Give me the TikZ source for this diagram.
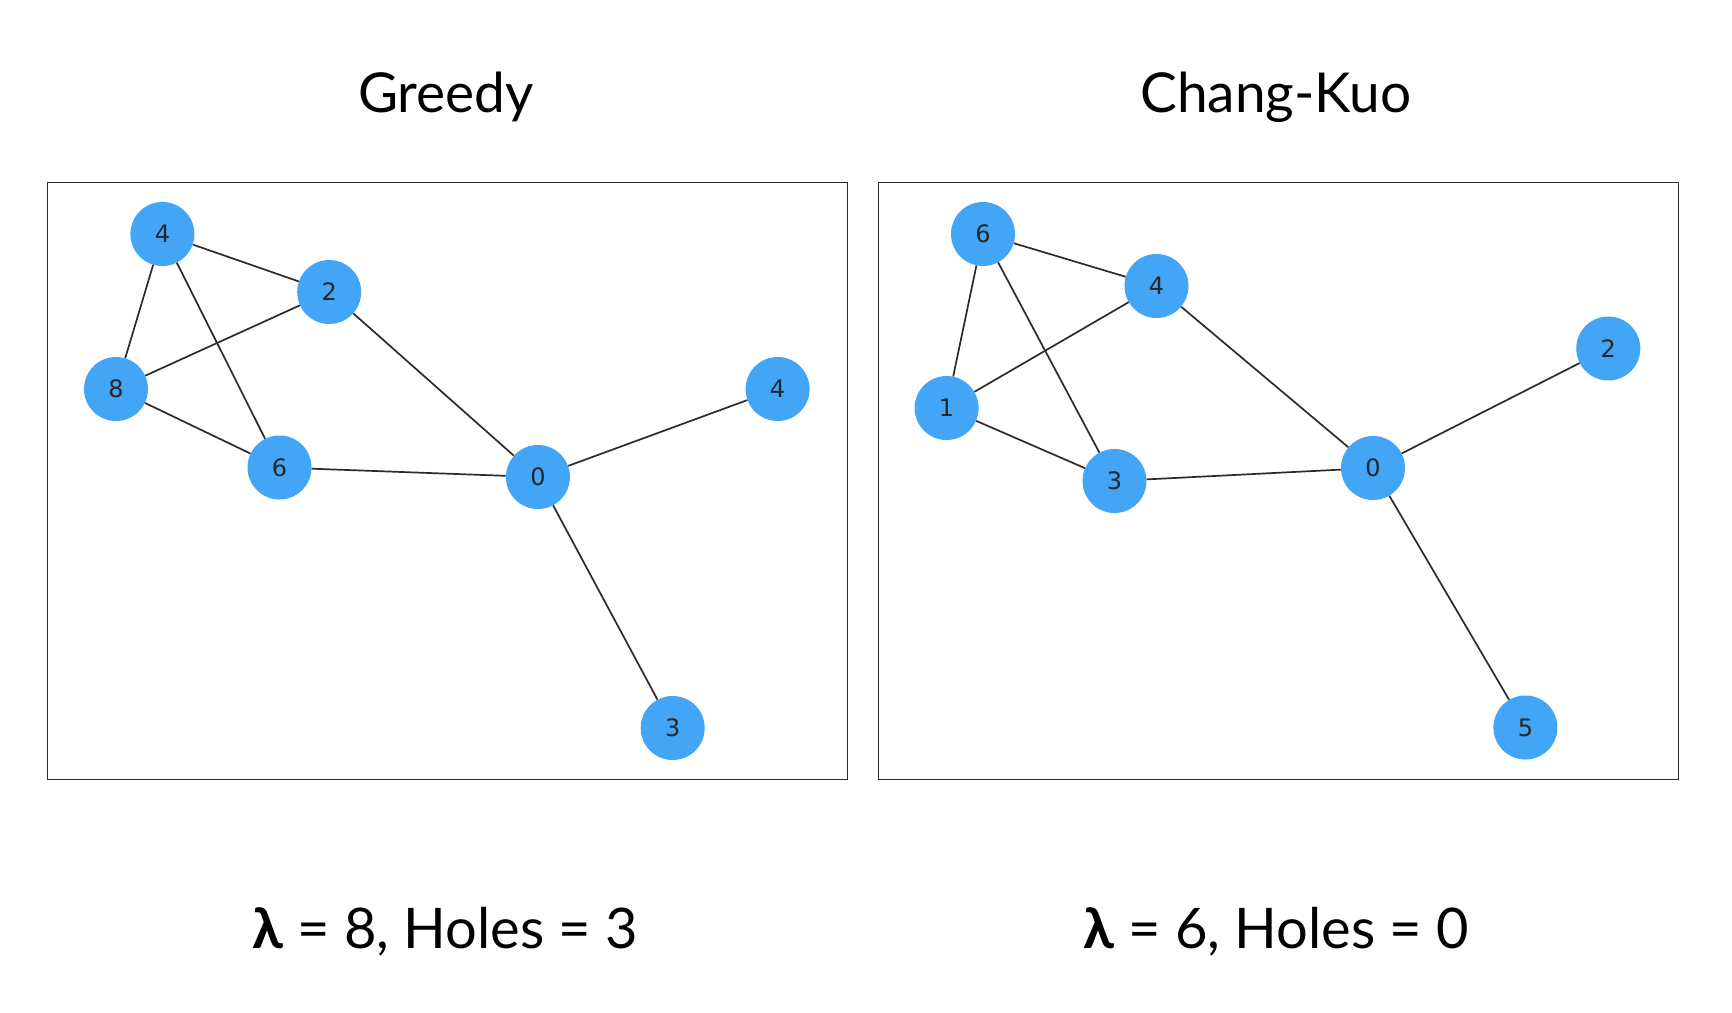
\documentclass[tikz,border=0pt]{standalone}
\usepackage{fontspec}
\setmainfont{Lato}
\newfontfamily\nodefont{DejaVu Sans}
\definecolor{nodeblue}{HTML}{42A5F5}
\definecolor{edgegray}{HTML}{2B2B2B}
\begin{document}
\begin{tikzpicture}[x=1pt,y=-1pt,
  vtx/.style={circle,fill=nodeblue,draw=none,minimum size=64pt,inner sep=0pt,font=\nodefont\fontsize{24}{24}\selectfont,text=black!85},
  edge/.style={draw=edgegray,line width=1.7pt},
  frame/.style={draw=edgegray,line width=1.4pt},
  title/.style={anchor=base,font=\fontsize{55}{62}\selectfont},
  caption/.style={anchor=base,font=\fontsize{56}{62}\selectfont}]
\useasboundingbox (0,0) rectangle (1732,1012);
\fill[white] (0,0) rectangle (1732,1012);
% frames
\draw[frame] (47.5,182.5) rectangle (847.5,779.5);
\draw[frame] (878.5,182.5) rectangle (1678.5,779.5);
% titles
\node[title] (tg) at (446,112) {Greedy};
\node[title] (tc) at (1276,112) {Chang-Kuo};
\node[caption] (cg) at (445,948) {{\bfseries λ} = 8, Holes = 3};
\node[caption] (cc) at (1276,948) {{\bfseries λ} = 6, Holes = 0};
% left graph
\node[vtx] (g4) at (162.4,234) {4};
\node[vtx] (g2) at (329.2,292) {2};
\node[vtx] (g8) at (116,389) {8};
\node[vtx] (g6) at (279.5,467.5) {6};
\node[vtx] (g0) at (537.9,477) {0};
\node[vtx] (g4b) at (777.6,389) {4};
\node[vtx] (g3) at (672.7,728) {3};
% right graph
\node[vtx] (c6) at (983,234) {6};
\node[vtx] (c4) at (1156.5,286) {4};
\node[vtx] (c2) at (1608.3,348.5) {2};
\node[vtx] (c1) at (946.6,408) {1};
\node[vtx] (c3) at (1114.5,481) {3};
\node[vtx] (c0) at (1373,468) {0};
\node[vtx] (c5) at (1525.4,727.5) {5};
% edges
\draw[edge] (g4) -- (g2);
\draw[edge] (g4) -- (g8);
\draw[edge] (g4) -- (g6);
\draw[edge] (g2) -- (g8);
\draw[edge] (g2) -- (g0);
\draw[edge] (g8) -- (g6);
\draw[edge] (g6) -- (g0);
\draw[edge] (g0) -- (g4b);
\draw[edge] (g0) -- (g3);
\draw[edge] (c6) -- (c4);
\draw[edge] (c6) -- (c1);
\draw[edge] (c6) -- (c3);
\draw[edge] (c4) -- (c1);
\draw[edge] (c4) -- (c0);
\draw[edge] (c1) -- (c3);
\draw[edge] (c3) -- (c0);
\draw[edge] (c0) -- (c2);
\draw[edge] (c0) -- (c5);
\end{tikzpicture}
\end{document}
